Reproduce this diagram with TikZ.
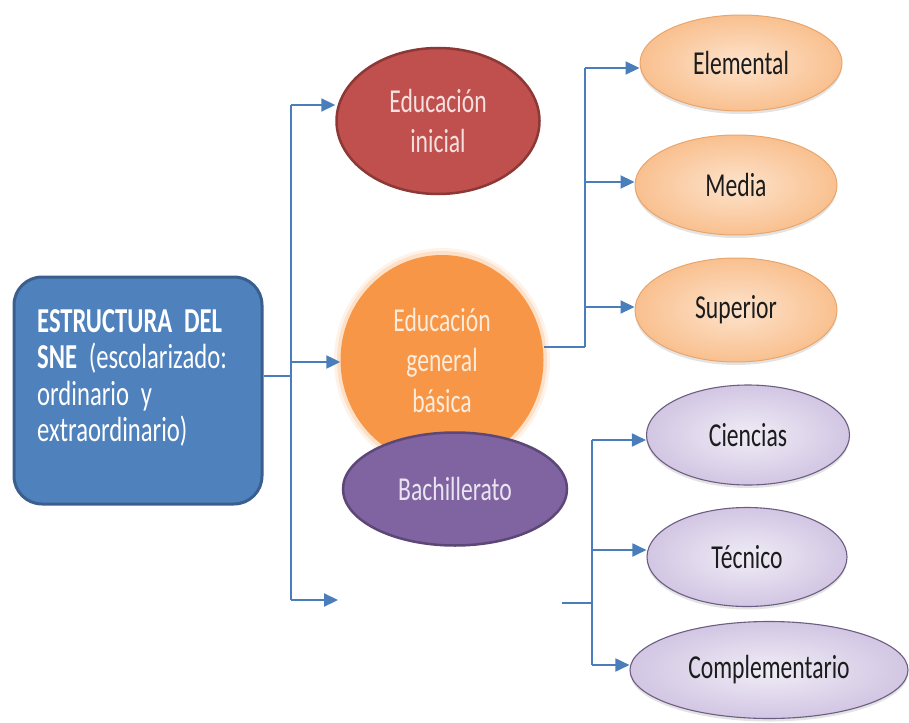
\documentclass[tikz,border=0pt]{standalone}
\usepackage{fontspec}
\setmainfont{Carlito}[FakeStretch=0.705]
\usetikzlibrary{arrows.meta,shapes.geometric,shadows,calc}
\newcommand{\ellfont}{\fontsize{33.5}{40.5}\selectfont}
\newcommand{\boxfont}{\fontsize{35}{36.5}\selectfont\fontdimen2\font=5.5pt\relax}
\newcommand{\boxbf}[1]{{\bfseries\fontdimen2\font=5.5pt\relax #1}}
\definecolor{boxblue}{HTML}{4F81BD}
\definecolor{boxedge}{HTML}{3A5F8E}
\definecolor{lineblue}{HTML}{4A7EBB}
\definecolor{inired}{HTML}{C0504D}
\definecolor{iniedge}{HTML}{8C3836}
\definecolor{initext}{HTML}{F4E0DF}
\definecolor{egborange}{HTML}{F79646}
\definecolor{egbtext}{HTML}{FDEBDB}
\definecolor{bachpurple}{HTML}{8064A2}
\definecolor{bachedge}{HTML}{5C4776}
\definecolor{bachtext}{HTML}{EAE4F0}
\definecolor{peachin}{HTML}{FDE3CC}
\definecolor{peachout}{HTML}{F9C08F}
\definecolor{peachedge}{HTML}{E9A66C}
\definecolor{lavin}{HTML}{F0ECF6}
\definecolor{lavout}{HTML}{D2C6E3}
\definecolor{lavedge}{HTML}{6C5E82}
\definecolor{darktext}{HTML}{1C1C1C}
\begin{document}
\begin{tikzpicture}[x=1pt,y=-1pt,
  conn/.style={draw=lineblue, line width=2.2pt},
  thinconn/.style={draw=lineblue, line width=1.8pt},
  arr/.style={conn, -{Triangle[length=14pt,width=13pt]}},
  thinarr/.style={thinconn, -{Triangle[length=14pt,width=13pt]}},
  txt/.style={font=\ellfont, align=center},
  ell/.style={ellipse, inner sep=0pt, txt},
  bigell/.style={ell, line width=2.5pt},
  peach/.style={ell, draw=peachedge, line width=1pt, inner color=peachin, outer color=peachout, text=darktext,
    drop shadow={shadow xshift=0pt, shadow yshift=-3pt, opacity=0.22}},
  lav/.style={ell, draw=lavedge, line width=1.1pt, inner color=lavin, outer color=lavout, text=darktext,
    drop shadow={shadow xshift=0pt, shadow yshift=-3pt, opacity=0.22}},
  mainbox/.style={rectangle, rounded corners=28pt, fill=boxblue, draw=boxedge, line width=3pt,
    minimum width=248pt, minimum height=227pt}
]
\useasboundingbox (0,0) rectangle (909,722);

% main box
\node[mainbox] (sne) at (138,390.5) {};
\node[anchor=west, text width=215pt, align=left, text=white, inner sep=0pt,
      font=\boxfont] (snelbl) at (37,378)
  {\boxbf{ESTRUCTURA DEL}\\\boxbf{SNE} (escolarizado:\\ordinario y\\extraordinario)};

% level 1
\node[bigell, fill=inired, draw=iniedge, minimum width=203pt, minimum height=146pt, text=initext]
  (ini) at (438,121) {Educación\\inicial};

\fill[egborange, opacity=0.12] (442,360) ellipse [x radius=108pt, y radius=112pt];
\fill[egborange, opacity=0.2] (442,360) ellipse [x radius=105pt, y radius=109pt];
\node[ell, fill=egborange, minimum width=203pt, minimum height=210pt, text=egbtext]
  (egb) at (442,360) {Educación\\general\\básica};

\node[bigell, fill=bachpurple, draw=bachedge, minimum width=224pt, minimum height=113pt, text=bachtext]
  (bach) at (455,489) {Bachillerato};

% level 2 upper
\node[peach, minimum width=202pt, minimum height=96pt] (elem) at (741,63) {Elemental};
\node[peach, minimum width=202pt, minimum height=100pt] (media) at (736,185) {Media};
\node[peach, minimum width=202pt, minimum height=104pt] (sup) at (736,310) {Superior};

% level 2 lower
\node[lav, minimum width=203pt, minimum height=100pt] (cien) at (748,435) {Ciencias};
\node[lav, minimum width=200pt, minimum height=99pt] (tec) at (747,557) {Técnico};
\node[lav, minimum width=278pt, minimum height=97pt] (comp) at (769,670) {Complementario};

% trunk
\coordinate (tr) at (291,376);
\coordinate (b1) at (291,105);
\coordinate (b2) at (291,362);
\coordinate (b3) at (291,600);
\coordinate (e3) at (338,600);
\draw[conn] (sne.east |- tr) -- (tr);
\draw[conn] (b1) -- (b3);
\draw[arr] (b1) -- (b1 -| ini.west);
\draw[arr] (b2) -- (b2 -| egb.west);
\draw[arr] (b3) -- (e3);

% upper branch
\coordinate (u0) at (585,347);
\coordinate (u1) at (585,68);
\coordinate (u2) at (585,182);
\coordinate (u3) at (585,307);
\draw[conn] (egb.east |- u0) -- (u0);
\draw[conn] (u1) -- (u0);
\draw[arr] (u1) -- (u1 -| elem.west);
\draw[arr] (u2) -- (u2 -| media.west);
\draw[arr] (u3) -- (u3 -| sup.west);

% lower branch
\coordinate (ls) at (562,603);
\coordinate (l0) at (592,603);
\coordinate (l1) at (592,440);
\coordinate (l2) at (592,550);
\coordinate (l3) at (592,665);
\draw[thinconn] (ls) -- (l0);
\draw[thinconn] (l1) -- (l3);
\draw[thinarr] (l1) -- (l1 -| cien.west);
\draw[thinarr] (l2) -- (l2 -| tec.west);
\draw[thinarr] (l3) -- (l3 -| comp.west);
\end{tikzpicture}
\end{document}
